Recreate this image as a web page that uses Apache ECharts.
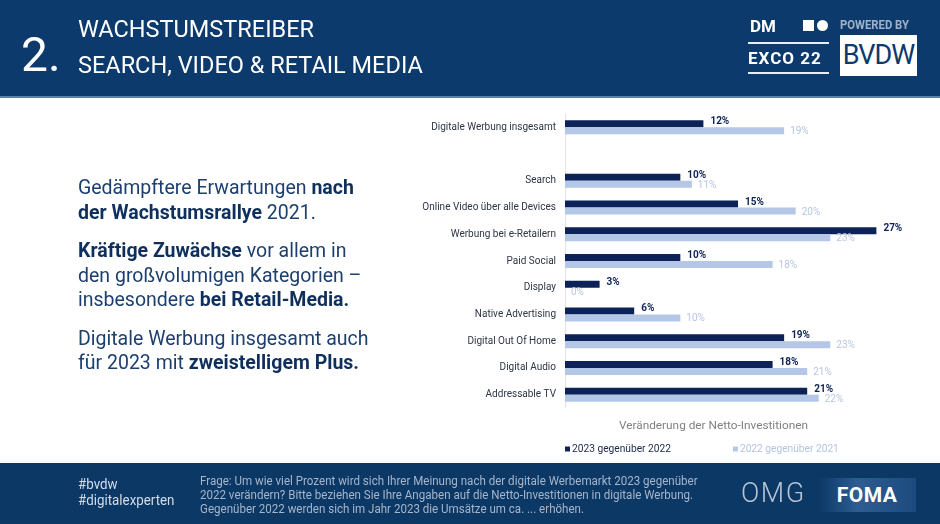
<!DOCTYPE html>
<html lang="de">
<head>
    <meta charset="utf-8" />
    <title>Wachstumstreiber</title>
    <script src="https://cdn.jsdelivr.net/npm/echarts@6/dist/echarts.min.js"></script>
    <style>
        body { margin: 0; width: 940px; height: 524px; overflow: hidden; background: #fff; font-family: Roboto, "Noto Sans", sans-serif; position: relative; }
        .header { position: absolute; left: 0; top: 0; width: 940px; height: 96px; background: #0c3a6c; border-bottom: 2px solid #5d7fa6; }
        .footer { position: absolute; left: 0; top: 463px; width: 940px; height: 61px; background: #0b3865; }
        .narrow { display: inline-block; transform: scaleX(0.92); transform-origin: left top; white-space: nowrap; }
        .num { position: absolute; left: 21px; top: 31px; color: #fff; font-size: 48px; line-height: 48px; }
        .t1, .t2 { position: absolute; left: 78px; color: #fff; font-size: 23.5px; line-height: 24px; white-space: nowrap; }
        .t1 { top: 17px; }
        .t2 { top: 53px; }
        .intro { position: absolute; left: 78px; top: 176px; width: 300px; color: #1d3f6e; font-size: 19.5px; line-height: 24.5px; }
        .intro p { margin: 0 0 14px 0; }
        .intro b { color: #0f2f5c; }
        .tags { position: absolute; left: 78px; top: 477px; color: #d2dcea; font-size: 14.5px; line-height: 16px; }
        .question { position: absolute; left: 200px; top: 474px; color: #a7b6cb; font-size: 12.5px; line-height: 14px; }
        .question .narrow { transform: scaleX(0.925); }
        .dm { position: absolute; left: 748px; top: 16px; width: 81px; color: #fff; font-weight: bold; font-size: 17px; line-height: 17px; }
        .dm .l1 { position: absolute; left: 2px; top: 2px; }
        .dm .sq { position: absolute; left: 55px; top: 4px; width: 11px; height: 11px; background: #fff; }
        .dm .ci { position: absolute; left: 69px; top: 4px; width: 11px; height: 11px; background: #fff; border-radius: 50%; }
        .dm .rule { position: absolute; left: 0; width: 81px; height: 2px; background: #e8eef6; }
        .dm .l2 { position: absolute; left: 0; top: 34px; letter-spacing: 1px; }
        .powered { position: absolute; left: 840px; top: 18px; color: #9fb1ca; font-weight: bold; font-size: 13px; line-height: 13px; }
        .powered .narrow { transform: scaleX(0.87); }
        .bvdw { position: absolute; left: 840px; top: 35px; width: 77px; height: 41px; background: #fff; color: #0c3a6c; font-size: 27px; line-height: 41px; text-align: center; letter-spacing: -1px; }
        .omg { position: absolute; left: 741px; top: 479px; color: #b8c4d4; font-size: 27px; line-height: 28px; letter-spacing: 1.5px; font-weight: 300; }
        .foma { position: absolute; left: 818px; top: 478px; width: 98px; height: 34px; background: linear-gradient(90deg, #0b3865, #2d5d92 40%, #1c4a7d); color: #fff; font-weight: bold; font-size: 21px; line-height: 34px; text-align: center; letter-spacing: 0.5px; }
        #chart { position: absolute; left: 0; top: 0; width: 940px; height: 524px; }
    </style>
</head>
<body>
    <div class="header"></div>
    <div class="footer"></div>
    <div id="chart"></div>

    <div class="num">2.</div>
    <div class="t1">WACHSTUMSTREIBER</div>
    <div class="t2">SEARCH, VIDEO &amp; RETAIL MEDIA</div>

    <div class="dm">
        <span class="l1">DM</span>
        <span class="sq"></span><span class="ci"></span>
        <span class="rule" style="top:26px"></span>
        <span class="l2">EXCO 22</span>
        <span class="rule" style="top:56px"></span>
    </div>
    <div class="powered"><span class="narrow">POWERED BY</span></div>
    <div class="bvdw">BVDW</div>

    <div class="intro">
        <p>Gedämpftere Erwartungen <b>nach der Wachstumsrallye</b> 2021.</p>
        <p><b>Kräftige Zuwächse</b> vor allem in den großvolumigen Kategorien – insbesondere <b>bei Retail-Media.</b></p>
        <p>Digitale Werbung insgesamt auch für 2023 mit <b>zweistelligem Plus.</b></p>
    </div>

    <div class="tags"><span class="narrow">#bvdw<br>#digitalexperten</span></div>
    <div class="question"><span class="narrow">Frage: Um wie viel Prozent wird sich Ihrer Meinung nach der digitale Werbemarkt 2023 gegenüber<br>2022 verändern? Bitte beziehen Sie Ihre Angaben auf die Netto-Investitionen in digitale Werbung.<br>Gegenüber 2022 werden sich im Jahr 2023 die Umsätze um ca. ... erhöhen.</span></div>
    <div class="omg">OMG</div>
    <div class="foma">FOMA</div>

<script>
// Daten
var categories = ['Digitale Werbung insgesamt', '', 'Search', 'Online Video über alle Devices',
    'Werbung bei e-Retailern', 'Paid Social', 'Display', 'Native Advertising',
    'Digital Out Of Home', 'Digital Audio', 'Addressable TV'];
var series2023 = [12, null, 10, 15, 27, 10, 3, 6, 19, 18, 21];
var series2022 = [19, null, 11, 20, 23, 18, 0, 10, 23, 21, 22];
var seriesNames = ['2023 gegenüber 2022', '2022 gegenüber 2021'];
var axisTitle = 'Veränderung der Netto-Investitionen';

var darkBlue = '#0d2358';
var lightBlue = '#b4c7e6';

var chart = echarts.init(document.getElementById('chart'));
chart.setOption({
    animation: false,
    textStyle: { fontFamily: 'Roboto' },
    // Achsentitel sitzt nicht mittig unter der Achse
    title: {
        text: axisTitle, left: 619, top: 420, padding: 0,
        textStyle: { color: '#808080', fontSize: 11.8, fontWeight: 'normal' }
    },
    grid: { left: 565, top: 114, width: 346, height: 294 },
    legend: {
        left: 560, top: 439,
        itemWidth: 5, itemHeight: 5, itemGap: 62,
        icon: 'rect',
        data: [
            { name: seriesNames[0], textStyle: { color: '#1a2748' } },
            { name: seriesNames[1], textStyle: { color: '#b4c3de' } }
        ],
        textStyle: { fontSize: 10.2, padding: [0, 0, 0, -3] }
    },
    xAxis: {
        type: 'value', min: 0, max: 30,
        axisLine: { show: false }, axisTick: { show: false },
        axisLabel: { show: false }, splitLine: { show: false }
    },
    yAxis: {
        type: 'category', inverse: true, data: categories,
        axisLine: { show: true, lineStyle: { color: '#e3e3e3', width: 1 } },
        axisTick: { show: false },
        axisLabel: { color: '#2d3445', fontSize: 10, margin: 9 }
    },
    series: [
        {
            name: seriesNames[0], type: 'bar', data: series2023,
            barWidth: 7, barGap: '0%',
            itemStyle: { color: darkBlue },
            label: { show: true, position: 'right', distance: 7, offset: [0, -2],
                formatter: '{c}%', color: darkBlue, fontWeight: 'bold', fontSize: 10 }
        },
        {
            name: seriesNames[1], type: 'bar', data: series2022,
            barWidth: 7,
            itemStyle: { color: lightBlue },
            label: { show: true, position: 'right', distance: 6, offset: [0, 1],
                formatter: '{c}%', color: '#b8c6de', fontSize: 10 }
        }
    ]
});
</script>
</body>
</html>
